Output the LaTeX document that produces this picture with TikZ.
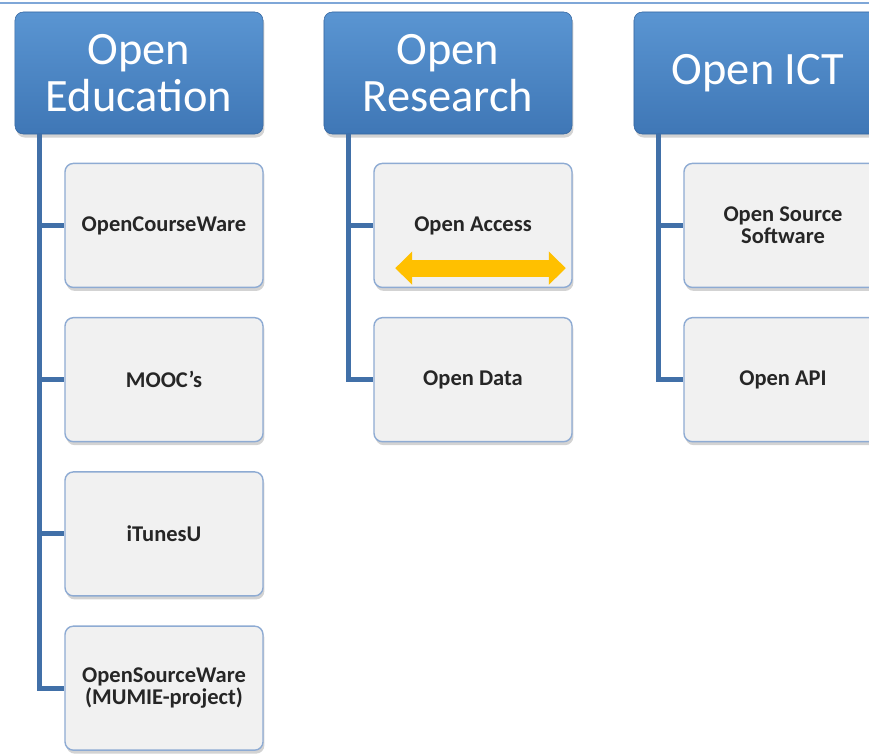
\documentclass[tikz,border=0pt]{standalone}
\usepackage{fontspec}
\setmainfont{Carlito}
\usetikzlibrary{shadows,arrows.meta,calc,positioning}

\definecolor{headtop}{HTML}{5A95D2}
\definecolor{headbot}{HTML}{3F77B6}
\definecolor{headline}{HTML}{3566A0}
\definecolor{trunkblue}{HTML}{4170A8}
\definecolor{railblue}{HTML}{7FA7D8}
\definecolor{leaffill}{HTML}{F1F1F1}
\definecolor{leafline}{HTML}{8EABD3}
\definecolor{accgold}{HTML}{FFC000}

\tikzset{
	head/.style={rectangle,rounded corners=6pt,draw=headline,thin,top color=headtop,bottom color=headbot,
		minimum width=6.2cm,minimum height=3.05cm,inner sep=0pt,align=center,text=white,
		font=\fontsize{33}{35}\selectfont,
		drop shadow={shadow xshift=1pt,shadow yshift=-2.5pt,opacity=0.35}},
	leaf/.style={rectangle,rounded corners=6pt,draw=leafline,line width=1pt,fill=leaffill,
		minimum width=4.95cm,minimum height=3.1cm,inner sep=0pt,align=center,text=black!85,
		font=\bfseries\fontsize{16}{16}\selectfont,
		drop shadow={shadow xshift=1pt,shadow yshift=-2.5pt,opacity=0.35}},
	trunk/.style={draw=trunkblue,line width=3.5pt,line cap=butt,line join=miter}
}

\begin{document}
\begin{tikzpicture}[x=0.025cm,y=-0.025cm,line join=round,line cap=round]
		\useasboundingbox (0,0) rectangle (869,754);
		\clip (0,0) rectangle (869,754);
		% rail on top
		\coordinate (railL) at (0,3);
		\coordinate (railR) at (869,3);
		\draw[railblue,line width=2pt] (railL)--(railR);
		% headers
		\node[head] (edu) at (139,73) {\shortstack{Open\\[2pt]Education}};
		\node[head] (res) at (448,73) {\shortstack{Open\\[2pt]Research}};
		\node[head] (ict) at (758,73) {Open ICT};
		% leaves
		\node[leaf,below=0.71cm of edu,xshift=0.625cm] (edu1) {OpenCourseWare};
		\node[leaf,below=0.72cm of edu1] (edu2) {MOOC's};
		\node[leaf,below=0.72cm of edu2] (edu3) {iTunesU};
		\node[leaf,below=0.72cm of edu3] (edu4) {OpenSourceWare\\(MUMIE-project)};
		\node[leaf,below=0.71cm of res,xshift=0.625cm] (res1) {Open Access};
		\node[leaf,below=0.72cm of res1] (res2) {Open Data};
		\node[leaf,below=0.71cm of ict,xshift=0.625cm] (ict1) {Open Source\\Software};
		\node[leaf,below=0.72cm of ict1] (ict2) {Open API};
		% trunks and stubs
		\foreach \h/\l in {edu/edu4,res/res2,ict/ict2}{
			\draw[trunk] ($(\h.south west)+(25,0)$) |- (\l.west);}
		\foreach \h/\l in {edu/edu1,edu/edu2,edu/edu3,res/res1,ict/ict1}{
			\draw[trunk] ($(\h.south west)+(25,0)$) |- (\l.west);}
		% arrow in Open Access
		\coordinate (accL) at ($(res1.south west)+(22,-20)$);
		\coordinate (accR) at ($(res1.south east)+(-7,-20)$);
		\draw[accgold,line width=12pt,line cap=butt,{Triangle[length=12pt,width=23pt]}-{Triangle[length=12pt,width=23pt]}] (accL)--(accR);
		\end{tikzpicture}
\end{document}
